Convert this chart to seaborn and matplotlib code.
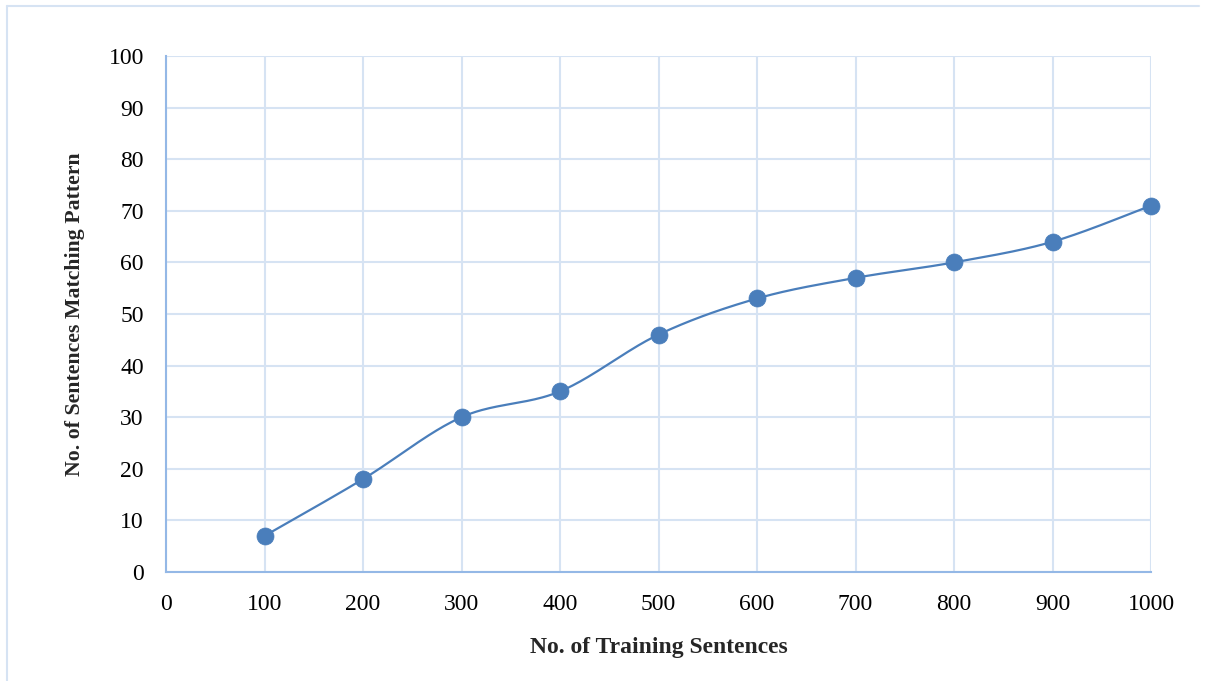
import numpy as np
import pandas as pd
import seaborn as sns
import matplotlib.pyplot as plt
from matplotlib.lines import Line2D

train_sents = [100, 200, 300, 400, 500, 600, 700, 800, 900, 1000]
matching = [7, 18, 30, 35, 46, 53, 57, 60, 64, 71]
x_ticks = list(range(0, 1001, 100))
y_ticks = list(range(0, 101, 10))

line_col = "#4a7ebb"
grid_col = "#d6e3f3"
spine_col = "#94b8e6"


def smooth_curve(xs, ys, n=40):
    # Excel-like smoothed line: Bezier segments with Catmull-Rom control points
    xs = np.asarray(xs, float)
    ys = np.asarray(ys, float)
    px = np.concatenate([[xs[0]], xs, [xs[-1]]])
    py = np.concatenate([[ys[0]], ys, [ys[-1]]])
    out_x, out_y = [], []
    t = np.linspace(0, 1, n)
    for i in range(1, len(px) - 2):
        p0 = np.array([px[i], py[i]])
        p3 = np.array([px[i + 1], py[i + 1]])
        c1 = p0 + (np.array([px[i + 1], py[i + 1]]) - np.array([px[i - 1], py[i - 1]])) / 6
        c2 = p3 - (np.array([px[i + 2], py[i + 2]]) - np.array([px[i], py[i]])) / 6
        b = ((1 - t) ** 3)[:, None] * p0 + (3 * (1 - t) ** 2 * t)[:, None] * c1 \
            + (3 * (1 - t) * t ** 2)[:, None] * c2 + (t ** 3)[:, None] * p3
        out_x.extend(b[:, 0])
        out_y.extend(b[:, 1])
    return pd.DataFrame({"x": out_x, "y": out_y})


sns.set_style("white")
plt.rcParams["font.family"] = ["Liberation Serif", "DejaVu Serif"]

fig = plt.figure(figsize=(12.05, 6.81), dpi=100)
ax = fig.add_axes([0.1378, 0.1601, 0.8174, 0.7577])

curve = smooth_curve(train_sents, matching)
sns.lineplot(data=curve, x="x", y="y", sort=False, color=line_col, linewidth=1.6, ax=ax)
pts = pd.DataFrame({"x": train_sents, "y": matching})
sns.scatterplot(data=pts, x="x", y="y", color=line_col, s=150, edgecolor=line_col, linewidth=0.5, zorder=5,
                clip_on=False, ax=ax)

ax.set_xlim(0, 1000)
ax.set_ylim(0, 100)
ax.set_xticks(x_ticks)
ax.set_yticks(y_ticks)
ax.grid(True, color=grid_col, linewidth=1.5)
ax.set_axisbelow(True)
for side in ["top", "right"]:
    ax.spines[side].set_visible(False)
for side in ["left", "bottom"]:
    ax.spines[side].set_color(spine_col)
    ax.spines[side].set_linewidth(1.5)
ax.tick_params(axis="both", length=0, labelsize=17, colors="black")
ax.tick_params(axis="x", pad=16)
ax.tick_params(axis="y", pad=16)
ax.set_xlabel("No. of Training Sentences", fontsize=17, fontweight="bold", labelpad=16)
ax.set_ylabel("No. of Sentences Matching Pattern", fontsize=15.7, fontweight="bold", labelpad=17)

# outer chart border
W, H = 1205, 681
fig.add_artist(Line2D([7 / W, 7 / W], [0, 1 - 6 / H], color=grid_col, linewidth=1.5))
fig.add_artist(Line2D([7 / W, 1199 / W], [1 - 6 / H, 1 - 6 / H], color=grid_col, linewidth=1.5))

fig.savefig("out.png", dpi=100)
